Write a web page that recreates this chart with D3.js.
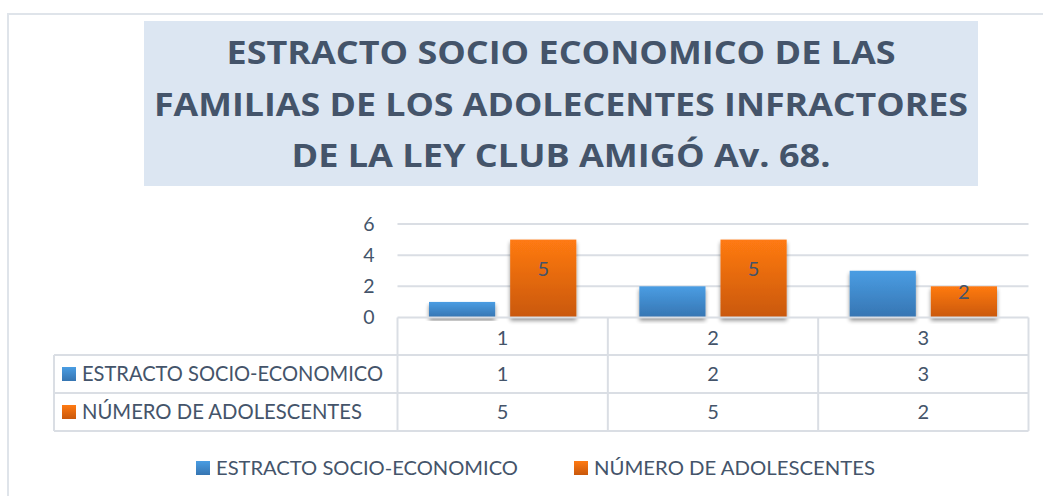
<!DOCTYPE html>
<html>
<head>
<meta charset="utf-8">
<script src="https://cdn.jsdelivr.net/npm/d3@7"></script>
<style>
  html, body { margin: 0; padding: 0; background: #ffffff; }
  svg { display: block; }
</style>
</head>
<body>
<svg id="chart" width="1043" height="496"></svg>
<script>
const categories = ["1", "2", "3"];
const seriesNames = ["ESTRACTO SOCIO-ECONOMICO", "NÚMERO DE ADOLESCENTES"];
const estractoValues = [1, 2, 3];
const adolescentesValues = [5, 5, 2];
const yTicks = [0, 2, 4, 6];
const titleLines = [
  "ESTRACTO SOCIO ECONOMICO DE LAS",
  "FAMILIAS DE LOS ADOLECENTES INFRACTORES",
  "DE LA LEY CLUB AMIGÓ Av. 68."
];

const seriesValues = [estractoValues, adolescentesValues];
const textColor = "#44546a";
const gridColor = "#dadee4";
const font = "Lato, 'Open Sans', 'DejaVu Sans', sans-serif";

const svg = d3.select("#chart");
const defs = svg.append("defs");

function grad(id, top, bottom) {
  const g = defs.append("linearGradient").attr("id", id)
    .attr("x1", 0).attr("y1", 0).attr("x2", 0).attr("y2", 1);
  g.append("stop").attr("offset", "0%").attr("stop-color", top);
  g.append("stop").attr("offset", "100%").attr("stop-color", bottom);
}
grad("gBlue", "#4a9de3", "#3675b2");
grad("gOrange", "#ff7a12", "#c9580c");
const colors = ["url(#gBlue)", "url(#gOrange)"];

const f = defs.append("filter").attr("id", "shadow")
  .attr("x", "-10%").attr("y", "-10%").attr("width", "120%").attr("height", "130%");
f.append("feGaussianBlur").attr("in", "SourceAlpha").attr("stdDeviation", 2);
f.append("feOffset").attr("dx", 0).attr("dy", 3).attr("result", "ob");
f.append("feComponentTransfer").append("feFuncA").attr("type", "linear").attr("slope", 0.45);
const fm = f.append("feMerge");
fm.append("feMergeNode");
fm.append("feMergeNode").attr("in", "SourceGraphic");

// outer chart border
svg.append("rect").attr("x", 8).attr("y", 14).attr("width", 1043).attr("height", 500)
  .attr("fill", "#ffffff").attr("stroke", "#dfe4ea").attr("stroke-width", 2);

// title box
svg.append("rect").attr("x", 144).attr("y", 21).attr("width", 834).attr("height", 165)
  .attr("fill", "#dce6f2");
const titleWidths = [669, 814, 539];
const titleBaselines = [64, 115.5, 167];
titleLines.forEach((t, i) => {
  svg.append("text")
    .attr("x", 561).attr("y", titleBaselines[i])
    .attr("text-anchor", "middle")
    .attr("font-family", "'Open Sans', Lato, sans-serif")
    .attr("font-weight", "bold")
    .attr("font-size", 32)
    .attr("fill", textColor)
    .attr("textLength", titleWidths[i])
    .attr("lengthAdjust", "spacingAndGlyphs")
    .text(t);
});

// scales
const plotLeft = 397.5, plotRight = 1028.5;
const x0 = d3.scaleBand().domain(categories).range([plotLeft, plotRight]).padding(0);
const groupPad = 31.5;
const x1 = d3.scaleBand().domain(seriesNames)
  .range([groupPad, x0.bandwidth() - groupPad]).paddingInner(0.185);
const y = d3.scaleLinear().domain([0, 6]).range([317.5, 224]);

// gridlines
svg.append("g").selectAll("line").data(yTicks.filter(d => d > 0)).join("line")
  .attr("x1", plotLeft).attr("x2", plotRight)
  .attr("y1", d => y(d)).attr("y2", d => y(d))
  .attr("stroke", gridColor).attr("stroke-width", 2);

// y axis labels via d3 axis
const yAxis = svg.append("g").attr("transform", `translate(${plotLeft},0)`)
  .call(d3.axisLeft(y).tickValues(yTicks).tickSize(0).tickPadding(23).tickFormat(d3.format("d")));
yAxis.select(".domain").remove();
yAxis.selectAll("text").attr("font-family", font).attr("font-size", 19.5)
  .attr("fill", textColor).attr("dy", "0.32em");

// bars
const groups = svg.append("g").selectAll("g").data(categories).join("g")
  .attr("transform", d => `translate(${x0(d)},0)`);
groups.selectAll("rect")
  .data((c, ci) => seriesNames.map((s, si) => ({ s, si, v: seriesValues[si][ci] })))
  .join("rect")
  .attr("x", d => x1(d.s)).attr("width", x1.bandwidth())
  .attr("y", d => y(d.v)).attr("height", d => y(0) - y(d.v))
  .attr("fill", d => colors[d.si])
  .attr("filter", "url(#shadow)");

// data labels for orange series
groups.selectAll("text.lbl")
  .data((c, ci) => [{ v: adolescentesValues[ci] }])
  .join("text").attr("class", "lbl")
  .attr("x", x1(seriesNames[1]) + x1.bandwidth() / 2)
  .attr("y", d => (y(d.v) + y(0)) / 2 - 9.5)
  .attr("dy", "0.35em")
  .attr("text-anchor", "middle")
  .attr("font-family", font).attr("font-size", 20)
  .attr("fill", textColor)
  .text(d => d.v);

// data table
const rowTops = [317.5, 355, 393, 431];
const tableLeft = 54;
const tg = svg.append("g");
tg.append("line").attr("x1", plotLeft).attr("x2", plotRight).attr("y1", rowTops[0]).attr("y2", rowTops[0])
  .attr("stroke", gridColor).attr("stroke-width", 2);
[1, 2, 3].forEach(i => {
  tg.append("line").attr("x1", tableLeft).attr("x2", plotRight)
    .attr("y1", rowTops[i]).attr("y2", rowTops[i])
    .attr("stroke", gridColor).attr("stroke-width", 2);
});
[...categories.map(c => x0(c)), plotRight].forEach(xv => {
  tg.append("line").attr("x1", xv).attr("x2", xv).attr("y1", rowTops[0]).attr("y2", rowTops[3])
    .attr("stroke", gridColor).attr("stroke-width", 2);
});
tg.append("line").attr("x1", tableLeft).attr("x2", tableLeft).attr("y1", rowTops[1]).attr("y2", rowTops[3])
  .attr("stroke", gridColor).attr("stroke-width", 2);

// category row
tg.selectAll("text.cat").data(categories).join("text").attr("class", "cat")
  .attr("x", d => x0(d) + x0.bandwidth() / 2)
  .attr("y", (rowTops[0] + rowTops[1]) / 2 + 2)
  .attr("dy", "0.35em").attr("text-anchor", "middle")
  .attr("font-family", font).attr("font-size", 20).attr("fill", textColor)
  .text(d => d);

// series rows
const labelWidths = [301, 280];
seriesNames.forEach((s, si) => {
  const cy = (rowTops[si + 1] + rowTops[si + 2]) / 2;
  tg.append("rect").attr("x", 62).attr("y", cy - 7).attr("width", 14).attr("height", 14)
    .attr("fill", colors[si]);
  tg.append("text").attr("x", 82).attr("y", cy).attr("dy", "0.35em")
    .attr("font-family", font).attr("font-size", 20.5).attr("fill", textColor)
    .attr("textLength", labelWidths[si]).attr("lengthAdjust", "spacingAndGlyphs")
    .text(s);
  categories.forEach((c, ci) => {
    tg.append("text")
      .attr("x", x0(c) + x0.bandwidth() / 2).attr("y", cy).attr("dy", "0.35em")
      .attr("text-anchor", "middle")
      .attr("font-family", font).attr("font-size", 20).attr("fill", textColor)
      .text(seriesValues[si][ci]);
  });
});

// legend
const legendX = [196, 574];
const legendWidths = [302, 281];
const lg = svg.append("g");
seriesNames.forEach((s, si) => {
  lg.append("rect").attr("x", legendX[si]).attr("y", 461).attr("width", 14).attr("height", 14)
    .attr("fill", colors[si]);
  lg.append("text").attr("x", legendX[si] + 20).attr("y", 468).attr("dy", "0.35em")
    .attr("font-family", font).attr("font-size", 20).attr("fill", textColor)
    .attr("textLength", legendWidths[si]).attr("lengthAdjust", "spacingAndGlyphs")
    .text(s);
});
</script>
</body>
</html>
